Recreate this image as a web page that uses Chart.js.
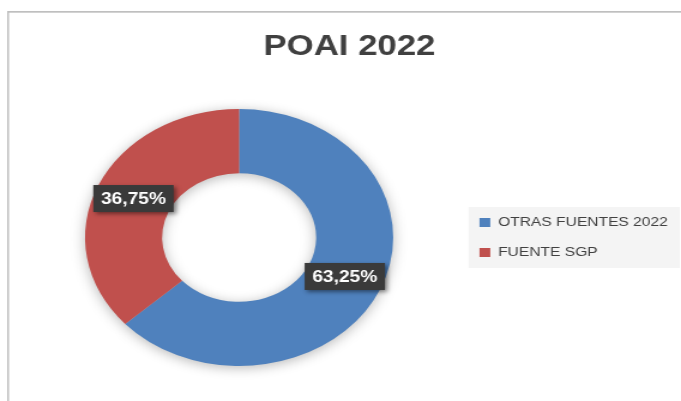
<!DOCTYPE html>
<html><head><meta charset="utf-8">
<script src="https://cdn.jsdelivr.net/npm/chart.js@4"></script>
<style>html,body{margin:0;padding:0;background:#fff;overflow:hidden}</style></head>
<body><canvas id="c" width="568" height="401" style="display:block;width:681px;height:401px"></canvas>
<script>
const chartTitle = 'POAI 2022';
const categories = ['OTRAS FUENTES 2022', 'FUENTE SGP'];
const values = [63.25, 36.75];
const valueLabels = ['63,25%', '36,75%'];
const sliceColors = ['#4f81bd', '#c0504d'];

const FONT = '"Liberation Sans", Arial, sans-serif';

const decor = {
  id: 'decor',
  beforeDraw(chart) {
    const {ctx, width, height} = chart;
    ctx.save();
    ctx.fillStyle = '#ffffff';
    ctx.fillRect(0, 0, width, height);
    ctx.fillStyle = '#bfbfbf';
    ctx.fillRect(6, 11, 1.5, height);
    ctx.fillRect(6, 11, width, 1.7);
    const hb = chart.legend && chart.legend.legendHitBoxes;
    if (hb && hb.length) {
      const l = Math.min(...hb.map(h => h.left)) - 9;
      const r = Math.max(...hb.map(h => h.left + h.width)) + 10;
      const t = hb[0].top - 9;
      const last = hb[hb.length - 1];
      const b = last.top + last.height + 9;
      ctx.fillStyle = '#f4f4f4';
      ctx.fillRect(l, t, r - l, b - t);
    }
    ctx.restore();
  },
  beforeDatasetsDraw(chart) {
    const ctx = chart.ctx;
    const meta = chart.getDatasetMeta(0);
    ctx.save();
    ctx.shadowColor = 'rgba(0,0,0,0.28)';
    ctx.shadowBlur = 12;
    ctx.shadowOffsetX = 3000;
    ctx.shadowOffsetY = 2;
    ctx.translate(-3000, 0);
    meta.data.forEach(a => a.draw(ctx, chart.chartArea));
    ctx.restore();
  },
  afterDatasetsDraw(chart) {
    const ctx = chart.ctx;
    const meta = chart.getDatasetMeta(0);
    ctx.save();
    ctx.font = 'bold 16px ' + FONT;
    meta.data.forEach((arc, i) => {
      const p = arc.getCenterPoint();
      const w = 67, h = 27;
      ctx.shadowColor = 'rgba(0,0,0,0.45)';
      ctx.shadowBlur = 4;
      ctx.shadowOffsetX = 2;
      ctx.shadowOffsetY = 2;
      ctx.fillStyle = '#3a3a3a';
      ctx.fillRect(p.x - w / 2, p.y - h / 2, w, h);
      ctx.shadowColor = 'transparent';
      ctx.fillStyle = '#ffffff';
      ctx.textAlign = 'center';
      ctx.textBaseline = 'middle';
      ctx.fillText(valueLabels[i], p.x, p.y + 1);
    });
    ctx.restore();
  }
};

new Chart(document.getElementById('c'), {
  type: 'doughnut',
  data: {
    labels: categories,
    datasets: [{
      data: values,
      backgroundColor: sliceColors,
      borderWidth: 0,
      hoverOffset: 0,
      offset: 0
    }]
  },
  options: {
    responsive: false,
    animation: false,
    devicePixelRatio: 1,
    cutout: '50%',
    layout: { padding: { left: 16, right: 1, top: 0, bottom: 35 } },
    plugins: {
      title: {
        display: true,
        text: chartTitle,
        color: '#404040',
        font: { family: FONT, size: 29, weight: 'bold', lineHeight: 1.2 },
        padding: { top: 30, bottom: 44.2 }
      },
      legend: {
        position: 'right',
        fullSize: false,
        labels: {
          boxWidth: 9,
          boxHeight: 9,
          padding: 17,
          color: '#404040',
          font: { family: FONT, size: 13 }
        }
      },
      tooltip: { enabled: false }
    }
  },
  plugins: [decor]
});
</script>
</body></html>
